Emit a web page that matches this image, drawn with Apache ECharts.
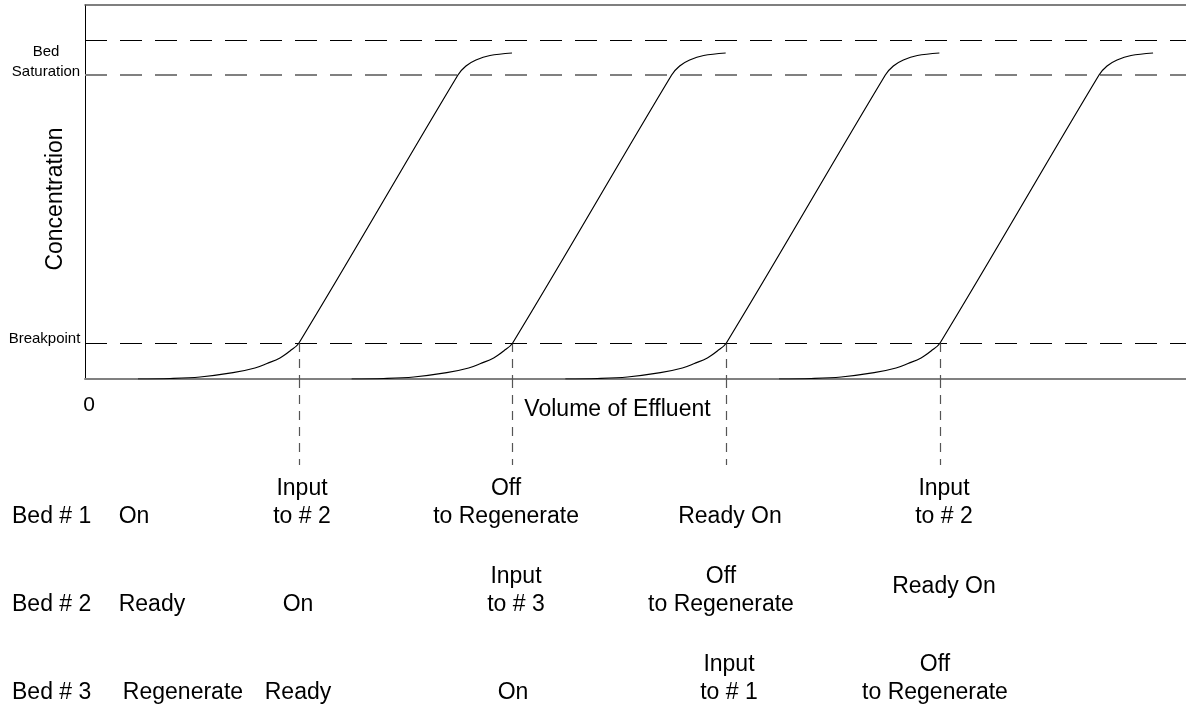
<!DOCTYPE html>
<html>
<head>
<meta charset="utf-8">
<title>Ion exchange beds - breakthrough</title>
<script src="https://cdn.jsdelivr.net/npm/echarts@6/dist/echarts.min.js"></script>
<style>
html, body { margin: 0; padding: 0; background: #fff; }
#chart { width: 1186px; height: 711px; }
</style>
</head>
<body>
<div id="chart"></div>
<script>
// concentration levels (percent of feed)
const breakpointLevel = 9.63;
const saturationLevel = 81.28;
const upperLevel = 90.64;

// breakthrough curves, one per service cycle (volume, concentration)
const curveConc = [0, 0.13, 0.53, 1.68, 2.94, 4.14, 5.61, 7.49, 9.63, 81.28, 83.69, 85.29, 86.5, 87.17];
const cycle1Vol = [5.29, 8.49, 11.49, 14.79, 16.98, 18.18, 19.48, 20.48, 21.38, 37.26, 38.06, 39.06, 40.46, 42.66];
const cycle2Vol = [26.64, 29.84, 32.84, 36.14, 38.33, 39.53, 40.83, 41.83, 42.73, 58.61, 59.41, 60.41, 61.81, 64.01];
const cycle3Vol = [47.99, 51.19, 54.19, 57.49, 59.68, 60.88, 62.18, 63.18, 64.08, 79.96, 80.76, 81.76, 83.16, 85.36];
const cycle4Vol = [69.34, 72.54, 75.54, 78.84, 81.03, 82.23, 83.53, 84.53, 85.43, 101.31, 102.11, 103.11, 104.51, 106.71];
const breakpointVol = [21.38, 42.73, 64.08, 85.43];

// bed status table under the plot
const bedNames = ['Bed # 1', 'Bed # 2', 'Bed # 3'];
const bed1Status = ['On', 'Input\nto # 2', 'Off\nto Regenerate', 'Ready On', 'Input\nto # 2'];
const bed2Status = ['Ready', 'On', 'Input\nto # 3', 'Off\nto Regenerate', 'Ready On'];
const bed3Status = ['Regenerate', 'Ready', 'On', 'Input\nto # 1', 'Off\nto Regenerate'];
const bed1Vol = [4.90, 21.68, 42.07, 64.44, 85.82];
const bed2Vol = [6.69, 21.28, 43.06, 63.54, 85.82];
const bed3Vol = [9.79, 21.28, 42.76, 64.34, 84.92];

// table layout (pixels below the volume axis)
const bedRowPos = [138, 226, 314];
const bed1Pos = [138, 124, 124, 138, 124];
const bed2Pos = [226, 226, 212, 212, 208];
const bed3Pos = [314, 314, 314, 300, 300];
const guideEnd = 86;
const bedNameVol = -7.29;

const font = 'Liberation Sans, Arial, Helvetica, sans-serif';
const chart = echarts.init(document.getElementById('chart'));

const cycles = [cycle1Vol, cycle2Vol, cycle3Vol, cycle4Vol];
const curveSeries = cycles.map((vol, i) => ({
    name: 'cycle' + (i + 1),
    type: 'line',
    xAxisIndex: 0,
    yAxisIndex: 0,
    data: vol.map((v, k) => [v, curveConc[k]]),
    smooth: 0.35,
    symbol: 'none',
    lineStyle: { color: '#000', width: 1.2 },
    silent: true,
    z: 5
}));

const plain = { color: '#000', width: 1, type: [22, 13] };
const guideStyle = { color: '#555', width: 1.2, type: [9, 7] };

const refSeries = {
    name: 'refs',
    type: 'line',
    xAxisIndex: 0,
    yAxisIndex: 0,
    data: [],
    silent: true,
    markLine: {
        silent: true,
        symbol: ['none', 'none'],
        animation: false,
        label: { show: false },
        data: [
            [{ coord: [0, upperLevel], lineStyle: plain }, { coord: [110, upperLevel] }],
            [{ coord: [0, saturationLevel], lineStyle: { color: '#808080', width: 2, type: [22, 13] } },
             { coord: [110, saturationLevel] }],
            [{ coord: [0, breakpointLevel], lineStyle: plain }, { coord: [110, breakpointLevel] }]
        ].concat(breakpointVol.map(v => [
            { coord: [v, breakpointLevel], lineStyle: guideStyle },
            { coord: [v, 0] }
        ]))
    }
};

// level names left of the concentration axis
const levelLabelSeries = {
    name: 'levels',
    type: 'scatter',
    xAxisIndex: 3,
    yAxisIndex: 2,
    symbolSize: 0,
    silent: true,
    itemStyle: { opacity: 1 },
    label: {
        show: true,
        position: 'inside',
        align: 'center',
        verticalAlign: 'middle',
        fontSize: 15,
        lineHeight: 20,
        color: '#000',
        textBorderWidth: 0,
        fontFamily: font,
        formatter: p => p.value[2]
    },
    data: [
        { value: [46, saturationLevel, 'Bed\nSaturation'], label: { offset: [0, -13] } },
        { value: [44.5, breakpointLevel, 'Breakpoint'], label: { offset: [0, -4] } }
    ]
};

function tableSeries(name, vols, pos, texts, align) {
    return {
        name: name,
        type: 'scatter',
        xAxisIndex: 2,
        yAxisIndex: 1,
        data: vols.map((v, i) => [v, pos[i], texts[i]]),
        symbolSize: 0,
        silent: true,
        itemStyle: { opacity: 1 },
        label: {
            show: true,
            position: 'inside',
            align: align,
            verticalAlign: 'middle',
            formatter: p => p.value[2],
            fontSize: 23,
            lineHeight: 28,
            color: '#000',
            textBorderWidth: 0,
            fontFamily: font
        }
    };
}

const guideSeries = {
    name: 'guides',
    type: 'line',
    xAxisIndex: 2,
    yAxisIndex: 1,
    data: [],
    silent: true,
    markLine: {
        silent: true,
        symbol: ['none', 'none'],
        animation: false,
        label: { show: false },
        lineStyle: guideStyle,
        data: breakpointVol.map(v => [{ coord: [v, 0] }, { coord: [v, guideEnd] }])
    }
};

const option = {
    animation: false,
    backgroundColor: '#fff',
    textStyle: { fontFamily: font },
    grid: [
        { left: 85, right: 0, top: 5, height: 374 },
        { left: 0, right: 0, top: 379, height: 332 },
        { left: 0, width: 85, top: 5, height: 374 }
    ],
    xAxis: [
        {
            gridIndex: 0,
            type: 'value',
            min: 0,
            max: 110,
            interval: 110,
            axisLine: { lineStyle: { color: '#808080', width: 2 } },
            axisTick: { show: false },
            splitLine: { show: false },
            axisLabel: { showMaxLabel: false, fontSize: 21, margin: 16, color: '#000', padding: [0, 0, 0, 8] },
            name: 'Volume of Effluent',
            nameLocation: 'middle',
            nameGap: 19,
            nameMoveOverlap: false,
            nameTextStyle: { fontSize: 23, color: '#000', padding: [0, 36, 0, 0] }
        },
        {
            gridIndex: 0,
            type: 'value',
            position: 'top',
            min: 0,
            max: 110,
            axisLine: { onZero: false, lineStyle: { color: '#555', width: 1.5 } },
            axisTick: { show: false },
            axisLabel: { show: false },
            splitLine: { show: false }
        },
        { gridIndex: 1, type: 'value', min: -8.49, max: 110, show: false },
        { gridIndex: 2, type: 'value', min: 0, max: 85, show: false }
    ],
    yAxis: [
        {
            gridIndex: 0,
            type: 'value',
            min: 0,
            max: 100,
            axisLine: { show: true, lineStyle: { color: '#000', width: 1 } },
            axisTick: { show: false },
            axisLabel: { show: false },
            splitLine: { show: false },
            name: 'Concentration',
            nameLocation: 'middle',
            nameGap: 18,
            nameMoveOverlap: false,
            nameTextStyle: { fontSize: 23, color: '#000', padding: [0, 14, 0, 0] }
        },
        { gridIndex: 1, type: 'value', min: 0, max: 332, inverse: true, show: false },
        { gridIndex: 2, type: 'value', min: 0, max: 100, show: false }
    ],
    series: curveSeries.concat([
        refSeries,
        guideSeries,
        levelLabelSeries,
        tableSeries('beds', bedNames.map(() => bedNameVol), bedRowPos, bedNames, 'left'),
        tableSeries('bed1', bed1Vol, bed1Pos, bed1Status, 'center'),
        tableSeries('bed2', bed2Vol, bed2Pos, bed2Status, 'center'),
        tableSeries('bed3', bed3Vol, bed3Pos, bed3Status, 'center')
    ])
};

chart.setOption(option);
</script>
</body>
</html>
